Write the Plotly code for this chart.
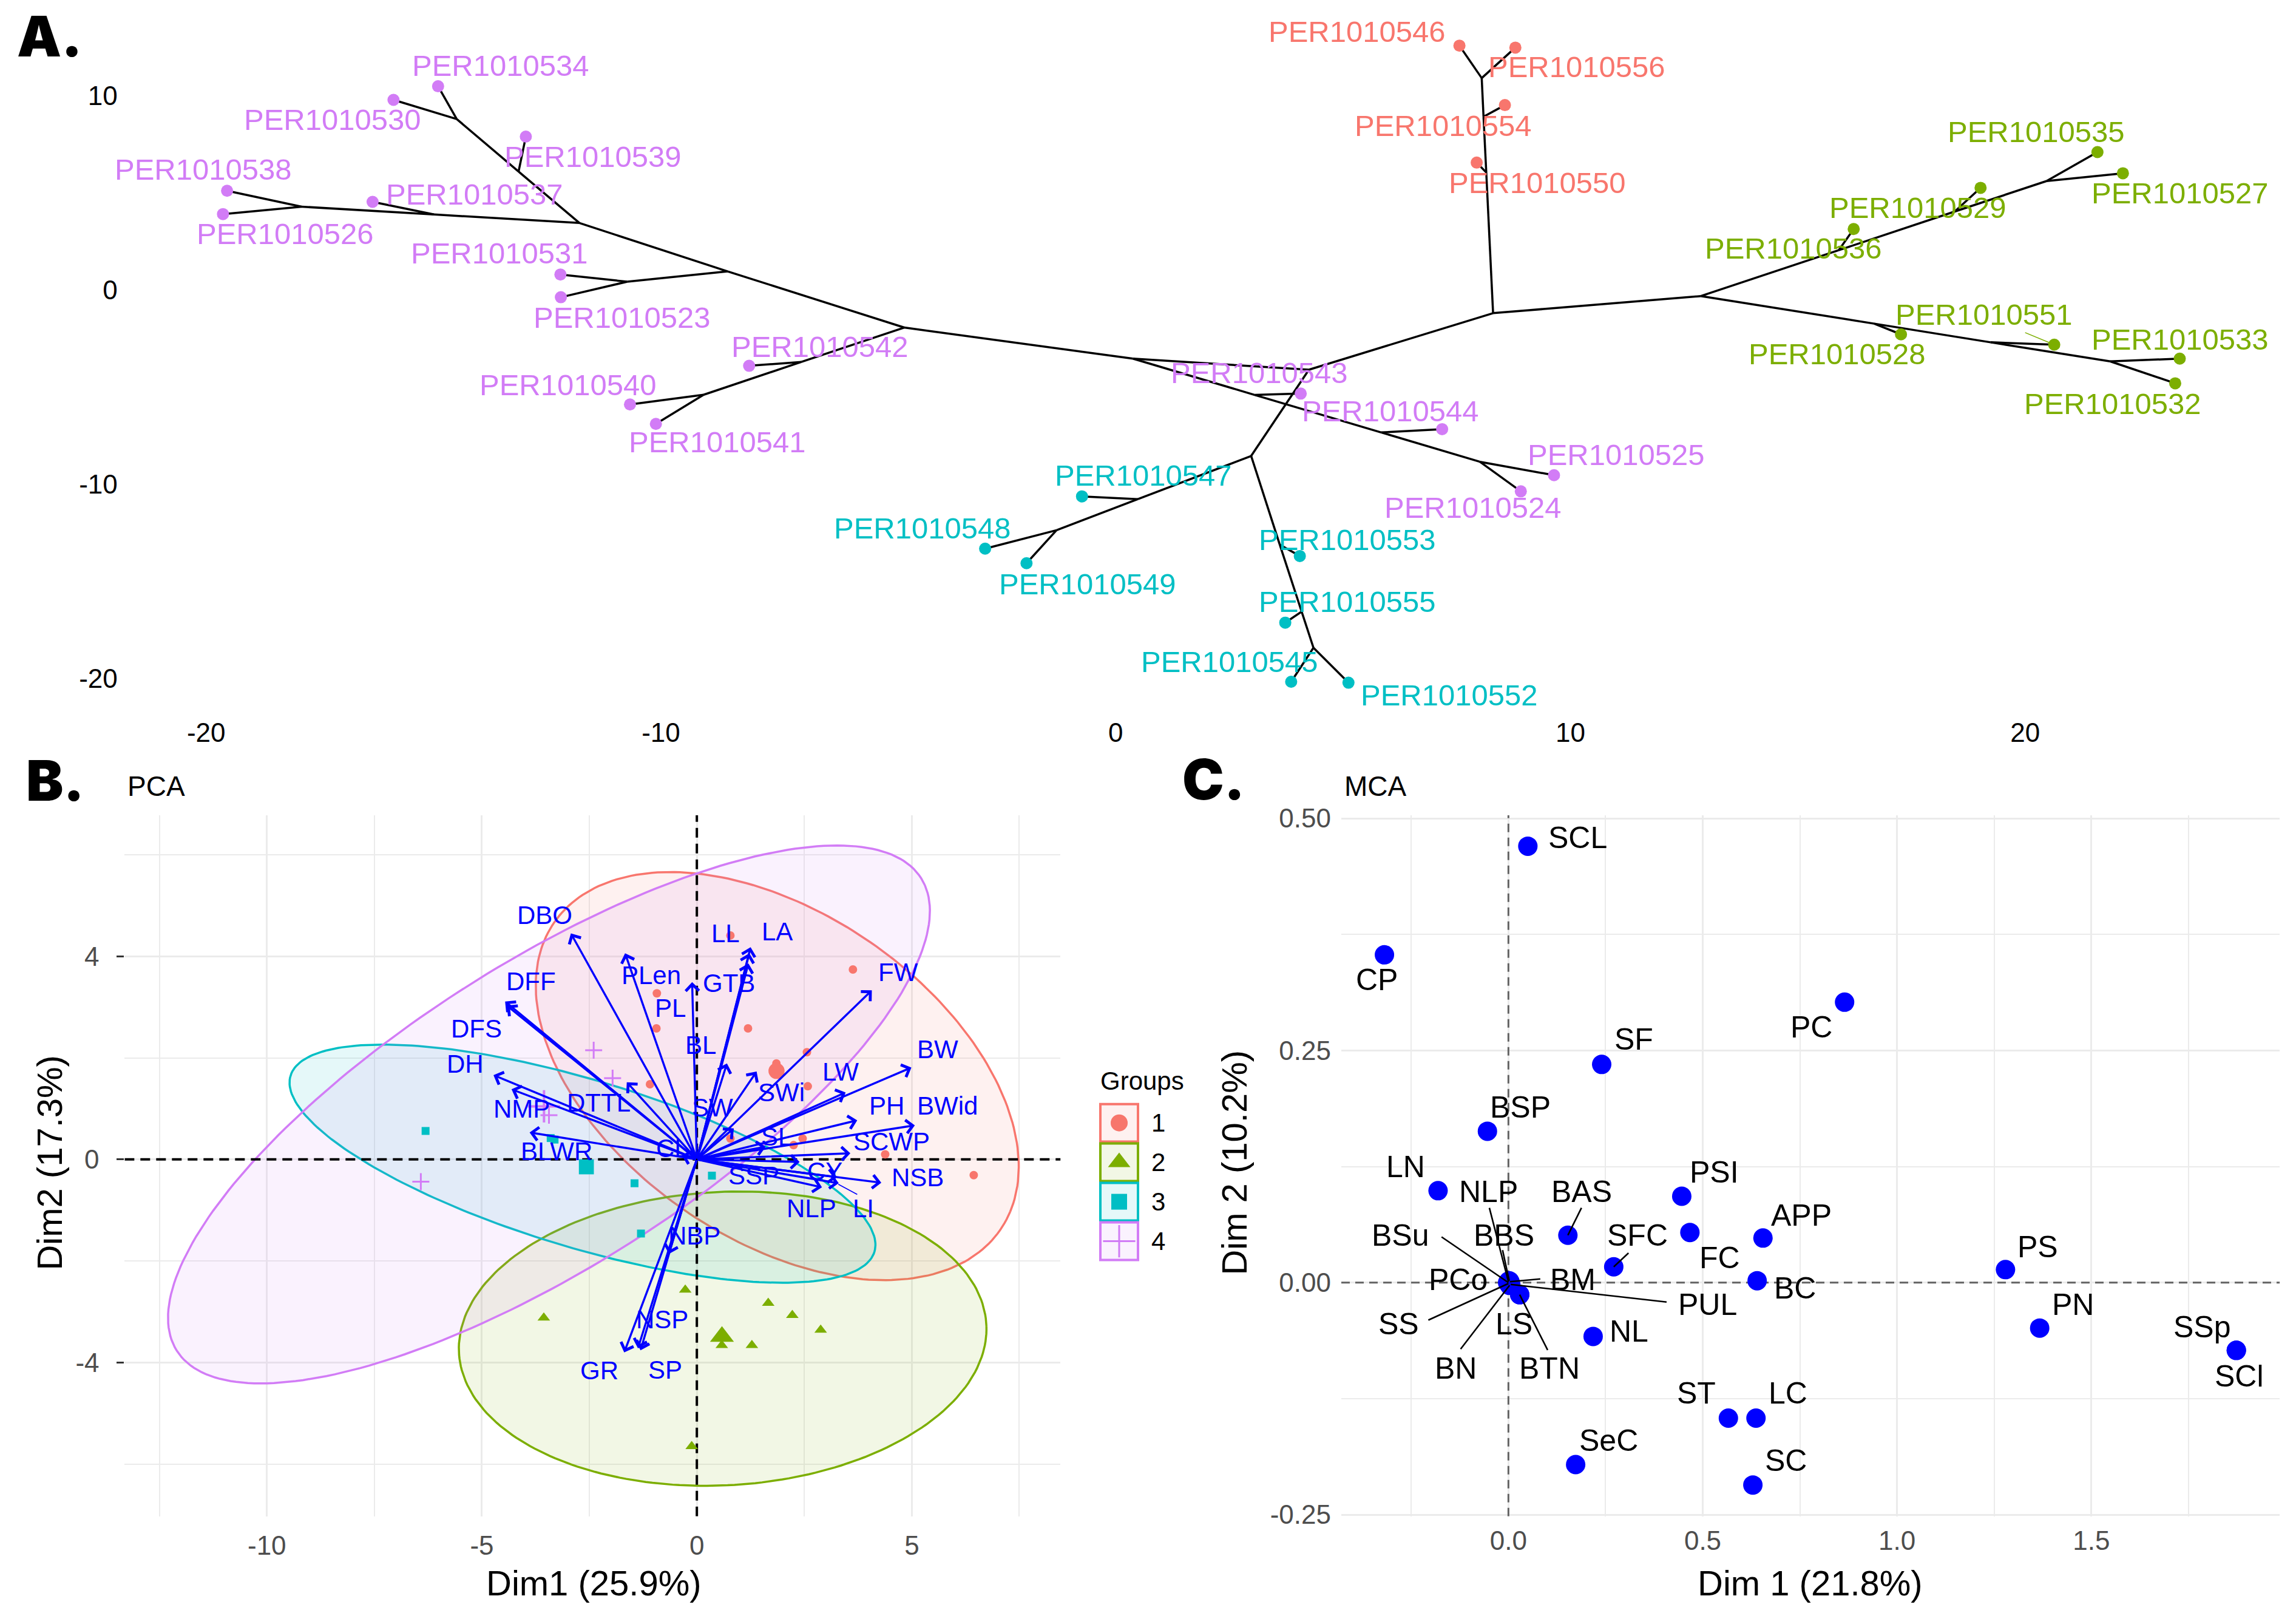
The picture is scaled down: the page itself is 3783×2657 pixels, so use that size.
import numpy as np
import plotly.graph_objects as go

W, H = 3783, 2657
FONT = "Liberation Sans, Arial, Helvetica, sans-serif"
HEAVY = "Inter, Roboto, DejaVu Sans, sans-serif"
GROUP_COLORS = ["#F8766D", "#7CAE00", "#00BFC4", "#D27CF6"]
GROUP_SYMBOLS = ["circle", "triangle-up", "square", "cross-thin"]


def rgba(hexc, a):
    h = hexc.lstrip("#")
    return "rgba(%d,%d,%d,%s)" % (int(h[0:2], 16), int(h[2:4], 16), int(h[4:6], 16), a)


def vy(Y):
    # small vertical calibration of measured pixel positions
    return 1303 + (Y - 1303) * 1.0152


def px(X):
    return X / W


def py(Y):
    return 1 - vy(Y) / H


# ---------------- Panel A : tree ----------------
tip_names = ["PER1010534", "PER1010530", "PER1010539", "PER1010538", "PER1010526", "PER1010537",
             "PER1010531", "PER1010523", "PER1010542", "PER1010540", "PER1010541", "PER1010543",
             "PER1010544", "PER1010525", "PER1010524", "PER1010546", "PER1010556", "PER1010554",
             "PER1010550", "PER1010535", "PER1010527", "PER1010529", "PER1010536", "PER1010528",
             "PER1010551", "PER1010533", "PER1010532", "PER1010547", "PER1010548", "PER1010549",
             "PER1010553", "PER1010555", "PER1010545", "PER1010552"]
tip_x = [-14.90, -15.88, -12.97, -19.54, -19.63, -16.34, -12.21, -12.20, -8.06, -10.68, -10.11, 4.07,
         7.18, 9.64, 8.91, 7.56, 8.79, 8.56, 7.94, 21.59, 22.15, 19.02, 16.23, 17.27, 20.64, 23.40,
         23.30, -0.74, -2.87, -1.96, 4.05, 3.73, 3.86, 5.12]
tip_y = [10.48, 9.78, 7.89, 5.10, 3.90, 4.53, 0.79, -0.38, -3.91, -5.90, -6.90, -5.34, -7.17, -9.54,
         -10.37, 12.57, 12.47, 9.51, 6.55, 7.09, 6.00, 5.25, 3.13, -2.29, -2.82, -3.54, -4.81, -10.63,
         -13.32, -14.07, -13.70, -17.13, -20.17, -20.22]
tip_group = [4] * 15 + [1] * 4 + [2] * 8 + [3] * 7

# label positions (layout)
tip_label_x = [-13.52, -17.22, -11.49, -20.06, -18.26, -14.10, -13.55, -10.85, -6.50, -12.04, -8.76,
               3.16, 6.05, 11.01, 7.86, 5.31, 10.14, 7.21, 9.27, 20.25, 23.41, 17.64, 14.91, 15.87,
               19.09, 23.41, 21.93, 0.61, -4.25, -0.61, 5.09, 5.09, 2.51, 7.34]
tip_label_y = [11.54, 8.76, 6.87, 6.19, 2.88, 4.91, 1.90, -1.42, -2.92, -4.88, -7.82, -4.28, -6.24,
               -8.50, -11.21, 13.28, 11.47, 8.46, 5.52, 8.15, 4.99, 4.24, 2.13, -3.30, -1.27, -2.55,
               -5.86, -9.56, -12.27, -15.13, -12.87, -16.04, -19.13, -20.86]

node_names = ["n1", "n2", "n3", "n4", "n5", "n6", "n7", "n8", "n9", "n10", "n11", "n12", "n13", "n14",
              "j554", "j550", "n15", "n16", "j529", "j536", "n17", "j528", "j551", "n18", "j543",
              "j544", "n19", "j547", "n21", "n22", "j553", "j555"]
node_x = [-14.49, -13.13, -11.79, -17.90, -14.99, -8.53, -10.74, -4.65, -6.91, -9.06, 0.38, 4.25, 8.30,
          8.05, 8.09, 8.15, 12.87, 20.47, 18.45, 15.90, 21.87, 16.68, 19.24, 8.01, 3.06, 5.84, 2.98,
          0.49, -1.30, 4.35, 3.61, 4.09]
node_y = [8.79, 6.09, 3.44, 4.28, 3.88, 0.95, 0.42, -1.94, -3.71, -5.40, -3.54, -4.11, -1.20, 10.90,
          8.91, 6.04, -0.32, 5.60, 4.03, 2.04, -3.68, -1.74, -2.70, -8.85, -5.41, -7.34, -8.55, -10.77,
          -12.37, -18.42, -13.12, -16.56]

edges = [("534", "n1"), ("530", "n1"), ("n1", "n2"), ("539", "n2"), ("n2", "n3"), ("538", "n4"),
         ("526", "n4"), ("n4", "n5"), ("537", "n5"), ("n5", "n3"), ("n3", "n6"), ("531", "n7"),
         ("523", "n7"), ("n7", "n6"), ("n6", "n8"), ("n8", "n9"), ("542", "n9"), ("n9", "n10"),
         ("540", "n10"), ("541", "n10"), ("n8", "n11"), ("n11", "n12"), ("n11", "j543"),
         ("j543", "543"), ("j543", "j544"), ("j544", "544"), ("j544", "n18"), ("n18", "525"),
         ("n18", "524"), ("n12", "n13"), ("n13", "j550"), ("j550", "550"), ("j550", "j554"),
         ("j554", "554"), ("j554", "n14"), ("n14", "546"), ("n14", "556"), ("n13", "n15"),
         ("n15", "j536"), ("j536", "536"), ("j536", "j529"), ("j529", "529"), ("j529", "n16"),
         ("n16", "535"), ("n16", "527"), ("n15", "j528"), ("j528", "528"), ("j528", "j551"),
         ("j551", "551"), ("j551", "n17"), ("n17", "533"), ("n17", "532"), ("n12", "n19"),
         ("n19", "j547"), ("j547", "547"), ("j547", "n21"), ("n21", "548"), ("n21", "549"),
         ("n19", "j553"), ("j553", "553"), ("j553", "j555"), ("j555", "555"), ("j555", "n22"),
         ("n22", "545"), ("n22", "552")]
leader551_start = (20.0, -2.20)

# ---------------- Panel B : PCA ----------------
g1_x = [0.78, 3.63, -0.93, -0.94, 1.19, 2.56, 1.85, 2.58, -1.09, 0.78, 2.46, 2.25, 4.38, 6.44]
g1_y = [4.41, 3.74, 3.27, 2.58, 2.58, 2.11, 1.89, 1.44, 1.48, 0.41, 0.41, 0.28, 0.10, -0.31]
g2_x = [-0.27, -3.56, 1.66, 2.22, 2.88, 0.58, 1.28, -0.12]
g2_y = [-2.57, -3.12, -2.83, -3.07, -3.36, -3.66, -3.66, -5.65]
g3_x = [-6.31, -3.31, -3.40, -1.45, -1.30, 0.35]
g3_y = [0.56, 0.39, 0.42, -0.47, -1.46, -0.32]
g4_x = [-2.40, -1.96, -3.44, -6.42]
g4_y = [2.15, 1.60, 0.87, -0.44]
groups_x = [g1_x, g2_x, g3_x, g4_x]
groups_y = [g1_y, g2_y, g3_y, g4_y]

ell_cx = [1.87, 0.60, -2.66, -3.44]
ell_cy = [1.64, -3.53, -0.085, 0.885]
ell_a = [6.04, 6.14, 7.01, 9.84]
ell_b = [3.35, 2.89, 1.67, 3.12]
ell_angle = [-26.2, 2.3, -14.0, 27.3]

var_names = ["DBO", "PLen", "PL", "LL", "LA", "GTB", "DFF", "DFS", "DH", "NMP", "DTTL", "BL", "SW",
             "SWi", "LW", "FW", "BW", "PH", "BWid", "SL", "SCWP", "CL", "BLWR", "SSP", "CY", "NSB",
             "NLP", "LI", "NBP", "NSP", "GR", "SP"]
var_x = [-2.93, -1.67, -0.11, 1.22, 1.25, 1.20, -4.46, -4.42, -4.73, -4.31, -1.63, 0.70, 0.86, 1.39,
         3.46, 4.07, 4.99, 3.73, 5.07, 1.60, 3.57, -0.35, -3.89, 2.39, 3.26, 4.29, 2.91, 3.30, -0.65,
         -1.37, -1.69, -1.31]
var_y = [4.45, 4.06, 3.49, 4.06, 4.18, 3.86, 3.11, 3.03, 1.66, 1.38, 1.52, 1.89, 0.61, 1.73, 1.32,
         3.33, 1.81, 0.77, 0.67, 0.25, 0.12, 0.08, 0.53, -0.05, -0.35, -0.46, -0.55, -0.47, -1.86,
         -3.72, -3.80, -3.76]
var_label_x = [-3.54, -1.06, -0.62, 0.67, 1.87, 0.74, -3.85, -5.12, -5.39, -4.08, -2.28, 0.09, 0.36,
               1.97, 3.34, 4.68, 5.60, 4.42, 5.83, 1.85, 4.53, -0.57, -3.27, 1.33, 2.97, 5.14, 2.66,
               3.87, -0.06, -0.81, -2.27, -0.74]
var_label_y = [4.81, 3.63, 2.98, 4.45, 4.49, 3.47, 3.51, 2.57, 1.88, 0.99, 1.12, 2.25, 1.02, 1.32,
               1.73, 3.68, 2.17, 1.06, 1.06, 0.45, 0.35, 0.22, 0.16, -0.32, -0.24, -0.36, -0.97,
               -0.97, -1.50, -3.15, -4.16, -4.14]
li_leader = ((3.29, -0.49), (3.73, -0.69))

# ---------------- Panel C : MCA ----------------
mca_names = ["SCL", "CP", "PC", "SF", "BSP", "LN", "PSI", "FC", "APP", "BAS", "SFC", "BC", "PS", "PN",
             "SSp", "SCl", "NL", "ST", "LC", "SeC", "SC", "NLP", "BSu", "BBS", "PCo", "BM", "PUL",
             "SS", "BN", "LS", "BTN"]
mca_dim1 = [0.050, -0.319, 0.865, 0.240, -0.054, -0.181, 0.446, 0.467, 0.655, 0.153, 0.271, 0.640,
            1.279, 1.367, 1.873, 1.873, 0.218, 0.566, 0.637, 0.173, 0.629, 0.000, 0.000, 0.002,
            -0.002, 0.004, 0.006, 0.000, 0.003, 0.029, 0.029]
mca_dim2 = [0.470, 0.353, 0.302, 0.235, 0.163, 0.099, 0.093, 0.054, 0.048, 0.051, 0.017, 0.002,
            0.014, -0.049, -0.073, -0.073, -0.058, -0.146, -0.146, -0.196, -0.218, 0.001, 0.000,
            0.002, 0.000, 0.001, -0.002, -0.001, -0.003, -0.013, -0.013]
mca_label_x = [0.179, -0.338, 0.780, 0.323, 0.031, -0.264, 0.530, 0.544, 0.753, 0.188, 0.332, 0.738,
               1.362, 1.452, 1.786, 1.880, 0.310, 0.483, 0.720, 0.258, 0.714, -0.052, -0.277,
               -0.011, -0.129, 0.166, 0.513, -0.282, -0.135, 0.015, 0.105]
mca_label_y = [0.479, 0.326, 0.275, 0.262, 0.189, 0.125, 0.119, 0.0268, 0.0726, 0.098, 0.0506,
               -0.006, 0.0387, -0.0238, -0.0476, -0.101, -0.0524, -0.119, -0.119, -0.170, -0.192,
               0.098, 0.0506, 0.0506, 0.003, 0.003, -0.0238, -0.0446, -0.0922, -0.0446, -0.0922]
mca_leader_names = ["BSu", "NLP", "BBS", "BAS", "SFC", "BM", "PUL", "SS", "BN", "BTN"]
mca_leader_x = [-0.172, -0.049, -0.015, 0.188, 0.309, 0.082, 0.407, -0.206, -0.123, 0.101]
mca_leader_y = [0.0492, 0.0805, 0.035, 0.0805, 0.0319, 0.0039, -0.0209, -0.0404, -0.0716, -0.0727]

# ---------------- Figure ----------------
fig = go.Figure()
ann = []
shapes = []

# Panel A
pts = {n[-3:]: (x, y) for n, x, y in zip(tip_names, tip_x, tip_y)}
pts.update({n: (x, y) for n, x, y in zip(node_names, node_x, node_y)})
ex, ey = [], []
for a, b in edges:
    ex += [pts[a][0], pts[b][0], None]
    ey += [pts[a][1], pts[b][1], None]
fig.add_trace(go.Scatter(x=ex, y=ey, mode="lines", line=dict(color="black", width=3.5),
                         xaxis="x", yaxis="y", hoverinfo="skip"))
fig.add_trace(go.Scatter(x=[leader551_start[0], pts["551"][0]], y=[leader551_start[1], pts["551"][1]],
                         mode="lines", line=dict(color=GROUP_COLORS[1], width=1.6),
                         xaxis="x", yaxis="y", hoverinfo="skip"))
for g in range(1, 5):
    idx = [i for i, gg in enumerate(tip_group) if gg == g]
    fig.add_trace(go.Scatter(x=[tip_x[i] for i in idx], y=[tip_y[i] for i in idx], mode="markers",
                             marker=dict(color=GROUP_COLORS[g - 1], size=20, line=dict(width=0)),
                             xaxis="x", yaxis="y"))
for n, lx, ly, g in zip(tip_names, tip_label_x, tip_label_y, tip_group):
    ann.append(dict(x=lx, y=ly, xref="x", yref="y", text=n, showarrow=False, xanchor="center",
                    yanchor="middle", font=dict(family=FONT, size=49, color=GROUP_COLORS[g - 1])))

# Panel B: ellipses
t = np.linspace(0, 2 * np.pi, 241)
for k in range(4):
    th = np.radians(ell_angle[k])
    exk = ell_cx[k] + ell_a[k] * np.cos(t) * np.cos(th) - ell_b[k] * np.sin(t) * np.sin(th)
    eyk = ell_cy[k] + ell_a[k] * np.cos(t) * np.sin(th) + ell_b[k] * np.sin(t) * np.cos(th)
    fig.add_trace(go.Scatter(x=exk, y=eyk, mode="lines", fill="toself",
                             fillcolor=rgba(GROUP_COLORS[k], 0.10),
                             line=dict(color=GROUP_COLORS[k], width=3.5),
                             xaxis="x2", yaxis="y2", hoverinfo="skip"))
BX = [-13.31, 8.46]
BY = [-7.03, 6.78]
fig.add_trace(go.Scatter(x=[0, 0], y=BY, mode="lines", line=dict(color="black", width=4, dash="16px,10px"),
                         xaxis="x2", yaxis="y2", hoverinfo="skip"))
fig.add_trace(go.Scatter(x=BX, y=[0, 0], mode="lines", line=dict(color="black", width=4, dash="16px,10px"),
                         xaxis="x2", yaxis="y2", hoverinfo="skip"))
pt_sizes = [14, 18, 13, 20]
for k in range(4):
    col = GROUP_COLORS[k]
    mk = dict(color=col, size=pt_sizes[k], symbol=GROUP_SYMBOLS[k], line=dict(width=0))
    mk_mean = dict(color=col, size=pt_sizes[k] * 1.9, symbol=GROUP_SYMBOLS[k], line=dict(width=0))
    if GROUP_SYMBOLS[k] == "cross-thin":
        mk["line"] = dict(color=col, width=3)
        mk_mean["line"] = dict(color=col, width=4)
    fig.add_trace(go.Scatter(x=groups_x[k], y=groups_y[k], mode="markers", marker=mk,
                             xaxis="x2", yaxis="y2"))
    fig.add_trace(go.Scatter(x=[float(np.mean(groups_x[k]))], y=[float(np.mean(groups_y[k]))],
                             mode="markers", marker=mk_mean, xaxis="x2", yaxis="y2"))
fig.add_trace(go.Scatter(x=[li_leader[0][0], li_leader[1][0]], y=[li_leader[0][1], li_leader[1][1]],
                         mode="lines", line=dict(color="#0000FF", width=1.5), xaxis="x2", yaxis="y2",
                         hoverinfo="skip"))
for n, vx, vyy in zip(var_names, var_x, var_y):
    ann.append(dict(x=vx, y=vyy, ax=0, ay=0, xref="x2", yref="y2", axref="x2", ayref="y2", text="",
                    showarrow=True, arrowhead=4, arrowsize=1.25, arrowwidth=3.4,
                    arrowcolor="#0000FF", standoff=0, startstandoff=0))
for n, lx, ly in zip(var_names, var_label_x, var_label_y):
    ann.append(dict(x=lx, y=ly, xref="x2", yref="y2", text=n, showarrow=False, xanchor="center",
                    yanchor="middle", font=dict(family=FONT, size=42, color="#0000FF")))

# Panel C
CX = [-0.430, 1.985]
CY = [-0.2518, 0.5035]
fig.add_trace(go.Scatter(x=[0, 0], y=CY, mode="lines", line=dict(color="#636363", width=3, dash="14px,9px"),
                         xaxis="x3", yaxis="y3", hoverinfo="skip"))
fig.add_trace(go.Scatter(x=CX, y=[0, 0], mode="lines", line=dict(color="#636363", width=3, dash="14px,9px"),
                         xaxis="x3", yaxis="y3", hoverinfo="skip"))
fig.add_trace(go.Scatter(x=mca_dim1, y=mca_dim2, mode="markers",
                         marker=dict(color="#0000FF", size=32, line=dict(width=0)),
                         xaxis="x3", yaxis="y3"))
lx_, ly_ = [], []
for n, sx, sy in zip(mca_leader_names, mca_leader_x, mca_leader_y):
    i = mca_names.index(n)
    lx_ += [sx, mca_dim1[i], None]
    ly_ += [sy, mca_dim2[i], None]
fig.add_trace(go.Scatter(x=lx_, y=ly_, mode="lines", line=dict(color="black", width=2.6),
                         xaxis="x3", yaxis="y3", hoverinfo="skip"))
for n, lx, ly in zip(mca_names, mca_label_x, mca_label_y):
    ann.append(dict(x=lx, y=ly, xref="x3", yref="y3", text=n, showarrow=False, xanchor="center",
                    yanchor="middle", font=dict(family=FONT, size=50, color="black")))

# Legend (drawn manually, pixel overlay axis)
legend_labels = ["1", "2", "3", "4"]
key_top = [1820, 1885, 1950, 2015]
key_h = 62
key_x0, key_x1 = 1813, 1875
leg_mk_size = [28, 32, 26, 38]
for k in range(4):
    shapes.append(dict(type="rect", xref="paper", yref="paper", x0=px(key_x0), x1=px(key_x1),
                       y0=py(key_top[k] + key_h), y1=py(key_top[k]),
                       line=dict(color=GROUP_COLORS[k], width=4),
                       fillcolor=rgba(GROUP_COLORS[k], 0.10)))
    mk = dict(color=GROUP_COLORS[k], size=leg_mk_size[k], symbol=GROUP_SYMBOLS[k], line=dict(width=0))
    if GROUP_SYMBOLS[k] == "cross-thin":
        mk["line"] = dict(color=GROUP_COLORS[k], width=3)
    fig.add_trace(go.Scatter(x=[(key_x0 + key_x1) / 2], y=[vy(key_top[k] + key_h / 2)], mode="markers",
                             marker=mk, xaxis="x4", yaxis="y4", hoverinfo="skip"))
    ann.append(dict(x=px(1895), y=py(key_top[k] + key_h / 2), xref="paper", yref="paper",
                    text=legend_labels[k], showarrow=False, xanchor="left", yanchor="middle",
                    font=dict(family=FONT, size=42, color="black")))
ann.append(dict(x=px(1811), y=py(1782), xref="paper", yref="paper", text="Groups", showarrow=False,
                xanchor="left", yanchor="middle", font=dict(family=FONT, size=42, color="black")))

# Panel letters, titles, axis titles
for txt, X, Y in [("A.", 26, 60), ("B.", 41, 1287), ("C.", 1946, 1285)]:
    ann.append(dict(x=px(X), y=py(Y), xref="paper", yref="paper", text=txt, showarrow=False,
                    xanchor="left", yanchor="middle",
                    font=dict(family=HEAVY, size=92, color="black", weight=900)))
for txt, X in [("PCA", 208), ("MCA", 2213)]:
    ann.append(dict(x=px(X), y=py(1296), xref="paper", yref="paper", text=txt, showarrow=False,
                    xanchor="left", yanchor="middle", font=dict(family=FONT, size=46, color="black")))
for txt, X, Y, ang in [("Dim1 (25.9%)", 978, 2609, 0), ("Dim2 (17.3%)", 82, 1917, -90),
                       ("Dim 1 (21.8%)", 2982, 2609, 0), ("Dim 2 (10.2%)", 2034, 1917, -90)]:
    ann.append(dict(x=px(X), y=py(Y), xref="paper", yref="paper", text=txt, showarrow=False,
                    xanchor="center", yanchor="middle", textangle=ang,
                    font=dict(family=FONT, size=58, color="black")))

tick_grey = dict(family=FONT, size=44, color="#4D4D4D")
tick_black = dict(family=FONT, size=44, color="black")
common = dict(showline=False, zeroline=False, fixedrange=True)
A_dom_y = [py(1178.1), py(23.2)]
BC_dom_y = [py(2499.5), py(1343.8)]

fig.update_layout(
    width=W, height=H, autosize=False, margin=dict(l=0, r=0, t=0, b=0, pad=0),
    paper_bgcolor="white", plot_bgcolor="rgba(0,0,0,0)", showlegend=False, hovermode=False,
    annotations=ann, shapes=shapes,
    xaxis=dict(domain=[0.05414, 0.99294], range=[-21.8, 25.6], anchor="y", showgrid=False,
               tickvals=[-20, -10, 0, 10, 20], ticktext=["-20", "-10", "0", "10", "20"],
               ticks="", tickfont=tick_black, ticklabelstandoff=0, **common),
    yaxis=dict(domain=A_dom_y, range=[-21.86, 14.21], anchor="x", showgrid=False,
               tickvals=[-20, -10, 0, 10], ticktext=["-20", "-10", "0", "10"],
               ticks="", tickfont=tick_black, ticklabelstandoff=10, **common),
    xaxis2=dict(domain=[0.05427, 0.46193], range=BX, anchor="y2", showgrid=True,
                gridcolor="#EBEBEB", gridwidth=3,
                tickvals=[-10, -5, 0, 5], ticktext=["-10", "-5", "0", "5"], ticks="",
                minor=dict(showgrid=True, gridcolor="#EBEBEB", gridwidth=1.5,
                           tickvals=[-12.5, -7.5, -2.5, 2.5, 7.5]),
                tickfont=tick_grey, ticklabelstandoff=18, **common),
    yaxis2=dict(domain=BC_dom_y, range=BY, anchor="x2", showgrid=True,
                gridcolor="#EBEBEB", gridwidth=3,
                tickvals=[-4, 0, 4], ticktext=["-4", "0", "4"], ticks="outside", ticklen=12,
                tickwidth=3, tickcolor="#333333",
                minor=dict(showgrid=True, gridcolor="#EBEBEB", gridwidth=1.5, tickvals=[-6, -2, 2, 6]),
                tickfont=tick_grey, ticklabelstandoff=20, **common),
    xaxis3=dict(domain=[0.58419, 0.99297], range=CX, anchor="y3", showgrid=True,
                gridcolor="#EBEBEB", gridwidth=3,
                tickvals=[0, 0.5, 1.0, 1.5], ticktext=["0.0", "0.5", "1.0", "1.5"], ticks="",
                minor=dict(showgrid=True, gridcolor="#EBEBEB", gridwidth=1.5,
                           tickvals=[-0.25, 0.25, 0.75, 1.25, 1.75]),
                tickfont=tick_grey, ticklabelstandoff=10, **common),
    yaxis3=dict(domain=BC_dom_y, range=CY, anchor="x3", showgrid=True,
                gridcolor="#EBEBEB", gridwidth=3,
                tickvals=[-0.25, 0, 0.25, 0.5], ticktext=["-0.25", "0.00", "0.25", "0.50"], ticks="",
                minor=dict(showgrid=True, gridcolor="#EBEBEB", gridwidth=1.5,
                           tickvals=[-0.125, 0.125, 0.375]),
                tickfont=tick_grey, ticklabelstandoff=16, **common),
    xaxis4=dict(domain=[0, 1], range=[0, W], anchor="y4", visible=False, fixedrange=True),
    yaxis4=dict(domain=[0, 1], range=[H, 0], anchor="x4", visible=False, fixedrange=True),
)

fig.write_html("out.html", config={"displayModeBar": False},
               post_script="document.body.style.margin='0';")
